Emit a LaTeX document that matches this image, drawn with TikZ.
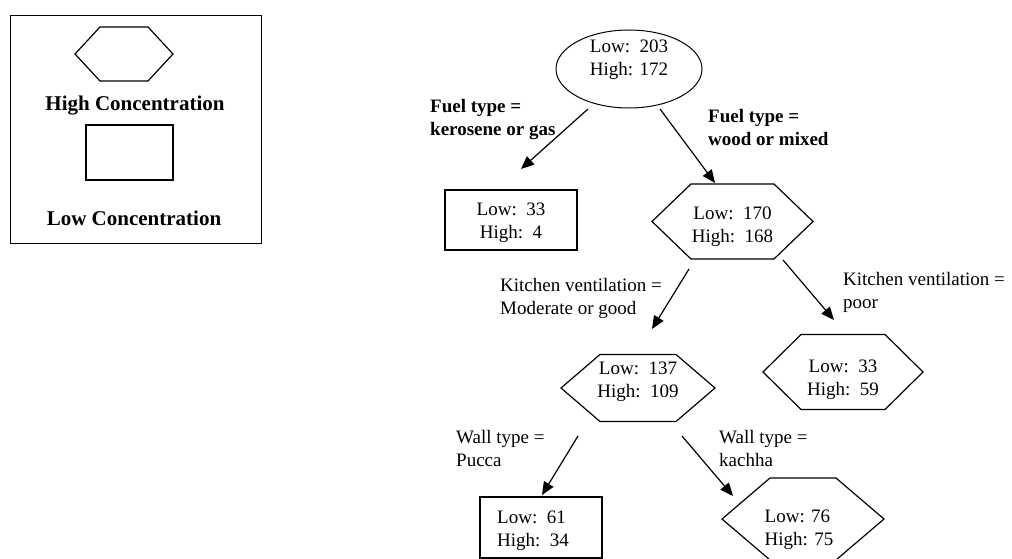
\documentclass[tikz,border=0pt]{standalone}
\usepackage{fontspec}
\setmainfont{Liberation Serif}
\usetikzlibrary{arrows.meta,shapes.geometric}
\tikzset{
  shapeline/.style={line width=1.2pt},
  cnt/.style={align=center,inner sep=0pt,font=\fontsize{19}{23}\selectfont},
  lbl/.style={anchor=west,align=left,inner sep=0pt,font=\fontsize{19}{23}\selectfont},
  blbl/.style={lbl,font=\fontsize{19}{23}\selectfont\bfseries},
  arr/.style={line width=1.2pt,-{Triangle[length=13pt,width=11pt]}},
  leaf/.style={draw,shapeline,minimum width=#1,inner sep=0pt},
}
\newcommand{\hexnode}[8]{%
  % name, x, y, half width, half height, inset, text offset, text.
  \begin{scope}[shift={(#2,#3)}]
    \draw[shapeline] (-#4,0) -- (-#4+#6,-#5) -- (#4-#6,-#5) -- (#4,0)
      -- (#4-#6,#5) -- (-#4+#6,#5) -- cycle;
    \node[cnt] (#1) at (#7) {#8};
  \end{scope}
}
\begin{document}
\begin{tikzpicture}[x=1pt,y=-1pt]
  \useasboundingbox (0,0) rectangle (1012,559);
  % legend
  \draw[line width=1pt] (10,16) rectangle (261,243);
  \hexnode{leghex}{124}{54}{49}{27}{25}{0,0}{}
  \node[font=\fontsize{21}{25}\selectfont\bfseries] (leghigh) at (135,106) {High Concentration};
  \node[draw,shapeline,minimum width=87pt,minimum height=55pt] (legrect) at (129.5,152.5) {};
  \node[font=\fontsize{21}{25}\selectfont\bfseries] (leglow) at (134,218) {Low Concentration};
  % tree
  \node[draw,ellipse,line width=1pt,minimum width=146pt,minimum height=78pt] (root) at (629,69) {};
  \node[cnt] (roottxt) at (629,60) {Low:\ \ 203\\High: 172};
  \node[leaf=132pt,minimum height=60pt] (kero) at (511,220) {};
  \node[cnt] (kerotxt) at (511,223) {Low:\ \ 33\\High:\ \ 4};
  \hexnode{wood}{732.5}{221.5}{80.5}{37.5}{39}{0,5}{Low:\ \ 170\\High:\ \ 168}
  \hexnode{good}{638}{388}{77}{33.5}{39}{0,-6}{Low:\ \ 137\\High:\ \ 109}
  \hexnode{poor}{843}{372}{80}{37.5}{38}{0,8}{Low:\ \ 33\\High:\ \ 59}
  \node[leaf=122pt,minimum height=61pt] (pucca) at (541,527.5) {};
  \node[cnt,align=left,anchor=west] (puccatxt) at (497,530.5) {Low:\ \ 61\\High:\ \ 34};
  \hexnode{kachha}{803}{519}{81}{41}{48}{-4,10}{\begin{tabular}{@{}l@{}}Low: 76\\High: 75\end{tabular}}
  % split labels
  \node[blbl] (l1) at (430,120) {Fuel type =\\kerosene or gas};
  \node[blbl] (l2) at (708,128) {Fuel type =\\wood or mixed};
  \node[lbl] (l3) at (500,298) {Kitchen ventilation =\\Moderate or good};
  \node[lbl] (l4) at (843,292) {Kitchen ventilation =\\poor};
  \node[lbl] (l5) at (456,448) {Wall type =\\Pucca};
  \node[lbl] (l6) at (719,448) {Wall type =\\kachha};
  % connectors
  \coordinate (a1) at (588,109); \coordinate (a2) at (521,169);
  \coordinate (b1) at (660,109); \coordinate (b2) at (715,183);
  \coordinate (c1) at (689,269); \coordinate (c2) at (652,329);
  \coordinate (d1) at (783,260); \coordinate (d2) at (834,320);
  \coordinate (e1) at (578,436); \coordinate (e2) at (542,495);
  \coordinate (f1) at (682,436); \coordinate (f2) at (733,496);
  \foreach \s/\t in {a1/a2,b1/b2,c1/c2,d1/d2,e1/e2,f1/f2}
    \draw[arr] (\s) -- (\t);
\end{tikzpicture}
\end{document}
